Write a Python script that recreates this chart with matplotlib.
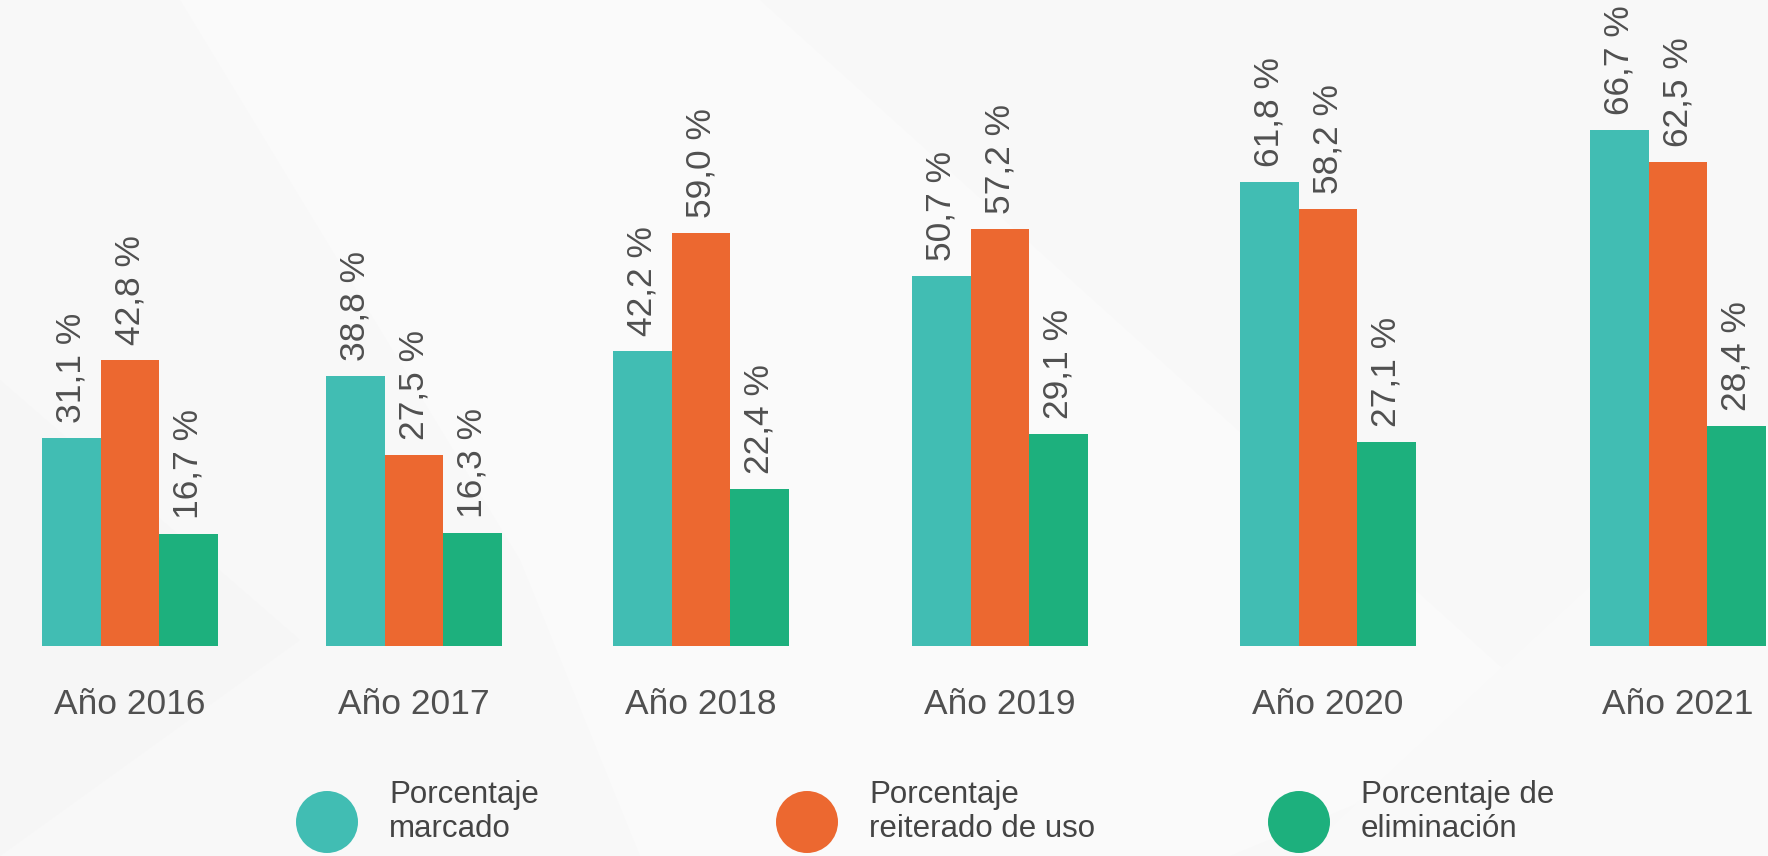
import matplotlib
matplotlib.use("Agg")
import matplotlib.pyplot as plt
from matplotlib.patches import Circle, Polygon

plt.rcParams["font.family"] = ["Liberation Sans", "DejaVu Sans"]

# data
years = ["Año 2016", "Año 2017", "Año 2018", "Año 2019", "Año 2020", "Año 2021"]
marcado = [31.1, 38.8, 42.2, 50.7, 61.8, 66.7]
reiterado = [42.8, 27.5, 59.0, 57.2, 58.2, 62.5]
eliminacion = [16.7, 16.3, 22.4, 29.1, 27.1, 28.4]
series_names = ["Porcentaje\nmarcado", "Porcentaje\nreiterado de uso", "Porcentaje de\neliminación"]

colors = ["#41BDB3", "#EC6830", "#1DB07D"]
text_grey = "#505050"

# layout (pixels of a 1768x856 canvas); each year is its own little panel
W, H = 1768, 856
base_y = 646
bar_w = 58.6
group_left = [42, 326, 613, 912, 1240, 1590]
panel_top = [96.7, 92.8, 92.3, 88.6, 86.0, 83.5]
legend_x = [327, 807, 1299]
legend_y = 822

fig = plt.figure(figsize=(W / 100, H / 100), dpi=100)
fig.patch.set_facecolor("#F8F8F8")

# faint background shapes
bg = fig.add_axes([0, 0, 1, 1], zorder=0)
bg.set_xlim(0, W)
bg.set_ylim(H, 0)
bg.axis("off")
bg.add_patch(Polygon([[180, 0], [760, 0], [1560, 720], [1230, 856], [640, 856], [520, 560]],
                     closed=True, color="#FAFAFA", lw=0))
bg.add_patch(Polygon([[0, 380], [300, 640], [0, 856]], closed=True, color="#F6F6F6", lw=0))
bg.add_patch(Polygon([[1300, 856], [1768, 420], [1768, 856]], closed=True, color="#F9F9F9", lw=0))

for g in range(len(years)):
    ax = fig.add_axes([group_left[g] / W, (H - base_y) / H, 3 * bar_w / W, base_y / H], zorder=2)
    vals = [marcado[g], reiterado[g], eliminacion[g]]
    ax.bar([0, 1, 2], vals, width=1.0, color=colors, linewidth=0)
    ax.set_xlim(-0.5, 2.5)
    ax.set_ylim(0, panel_top[g])
    ax.axis("off")
    ax.patch.set_visible(False)
    for i, v in enumerate(vals):
        lab = f"{v:.1f} %".replace(".", ",")
        ax.annotate(lab, xy=(i, v), xytext=(0, 15), textcoords="offset pixels",
                    rotation=90, ha="center", va="bottom", fontsize=25.5,
                    color=text_grey, annotation_clip=False)
    ax.annotate(years[g], xy=(1, 0), xytext=(0, -59), textcoords="offset pixels",
                ha="center", va="center", fontsize=25.5, color=text_grey,
                annotation_clip=False)

# legend
lg = fig.add_axes([0, 0, 1, 1], zorder=3)
lg.set_xlim(0, W)
lg.set_ylim(H, 0)
lg.axis("off")
lg.patch.set_visible(False)
for k, name in enumerate(series_names):
    lg.add_patch(Circle((legend_x[k], legend_y), 31, color=colors[k], lw=0))
    lg.text(legend_x[k] + 62, legend_y - 10, name, ha="left", va="center",
            fontsize=22.5, color="#444444", linespacing=1.2)

fig.savefig("out.png", dpi=100, facecolor=fig.get_facecolor())
